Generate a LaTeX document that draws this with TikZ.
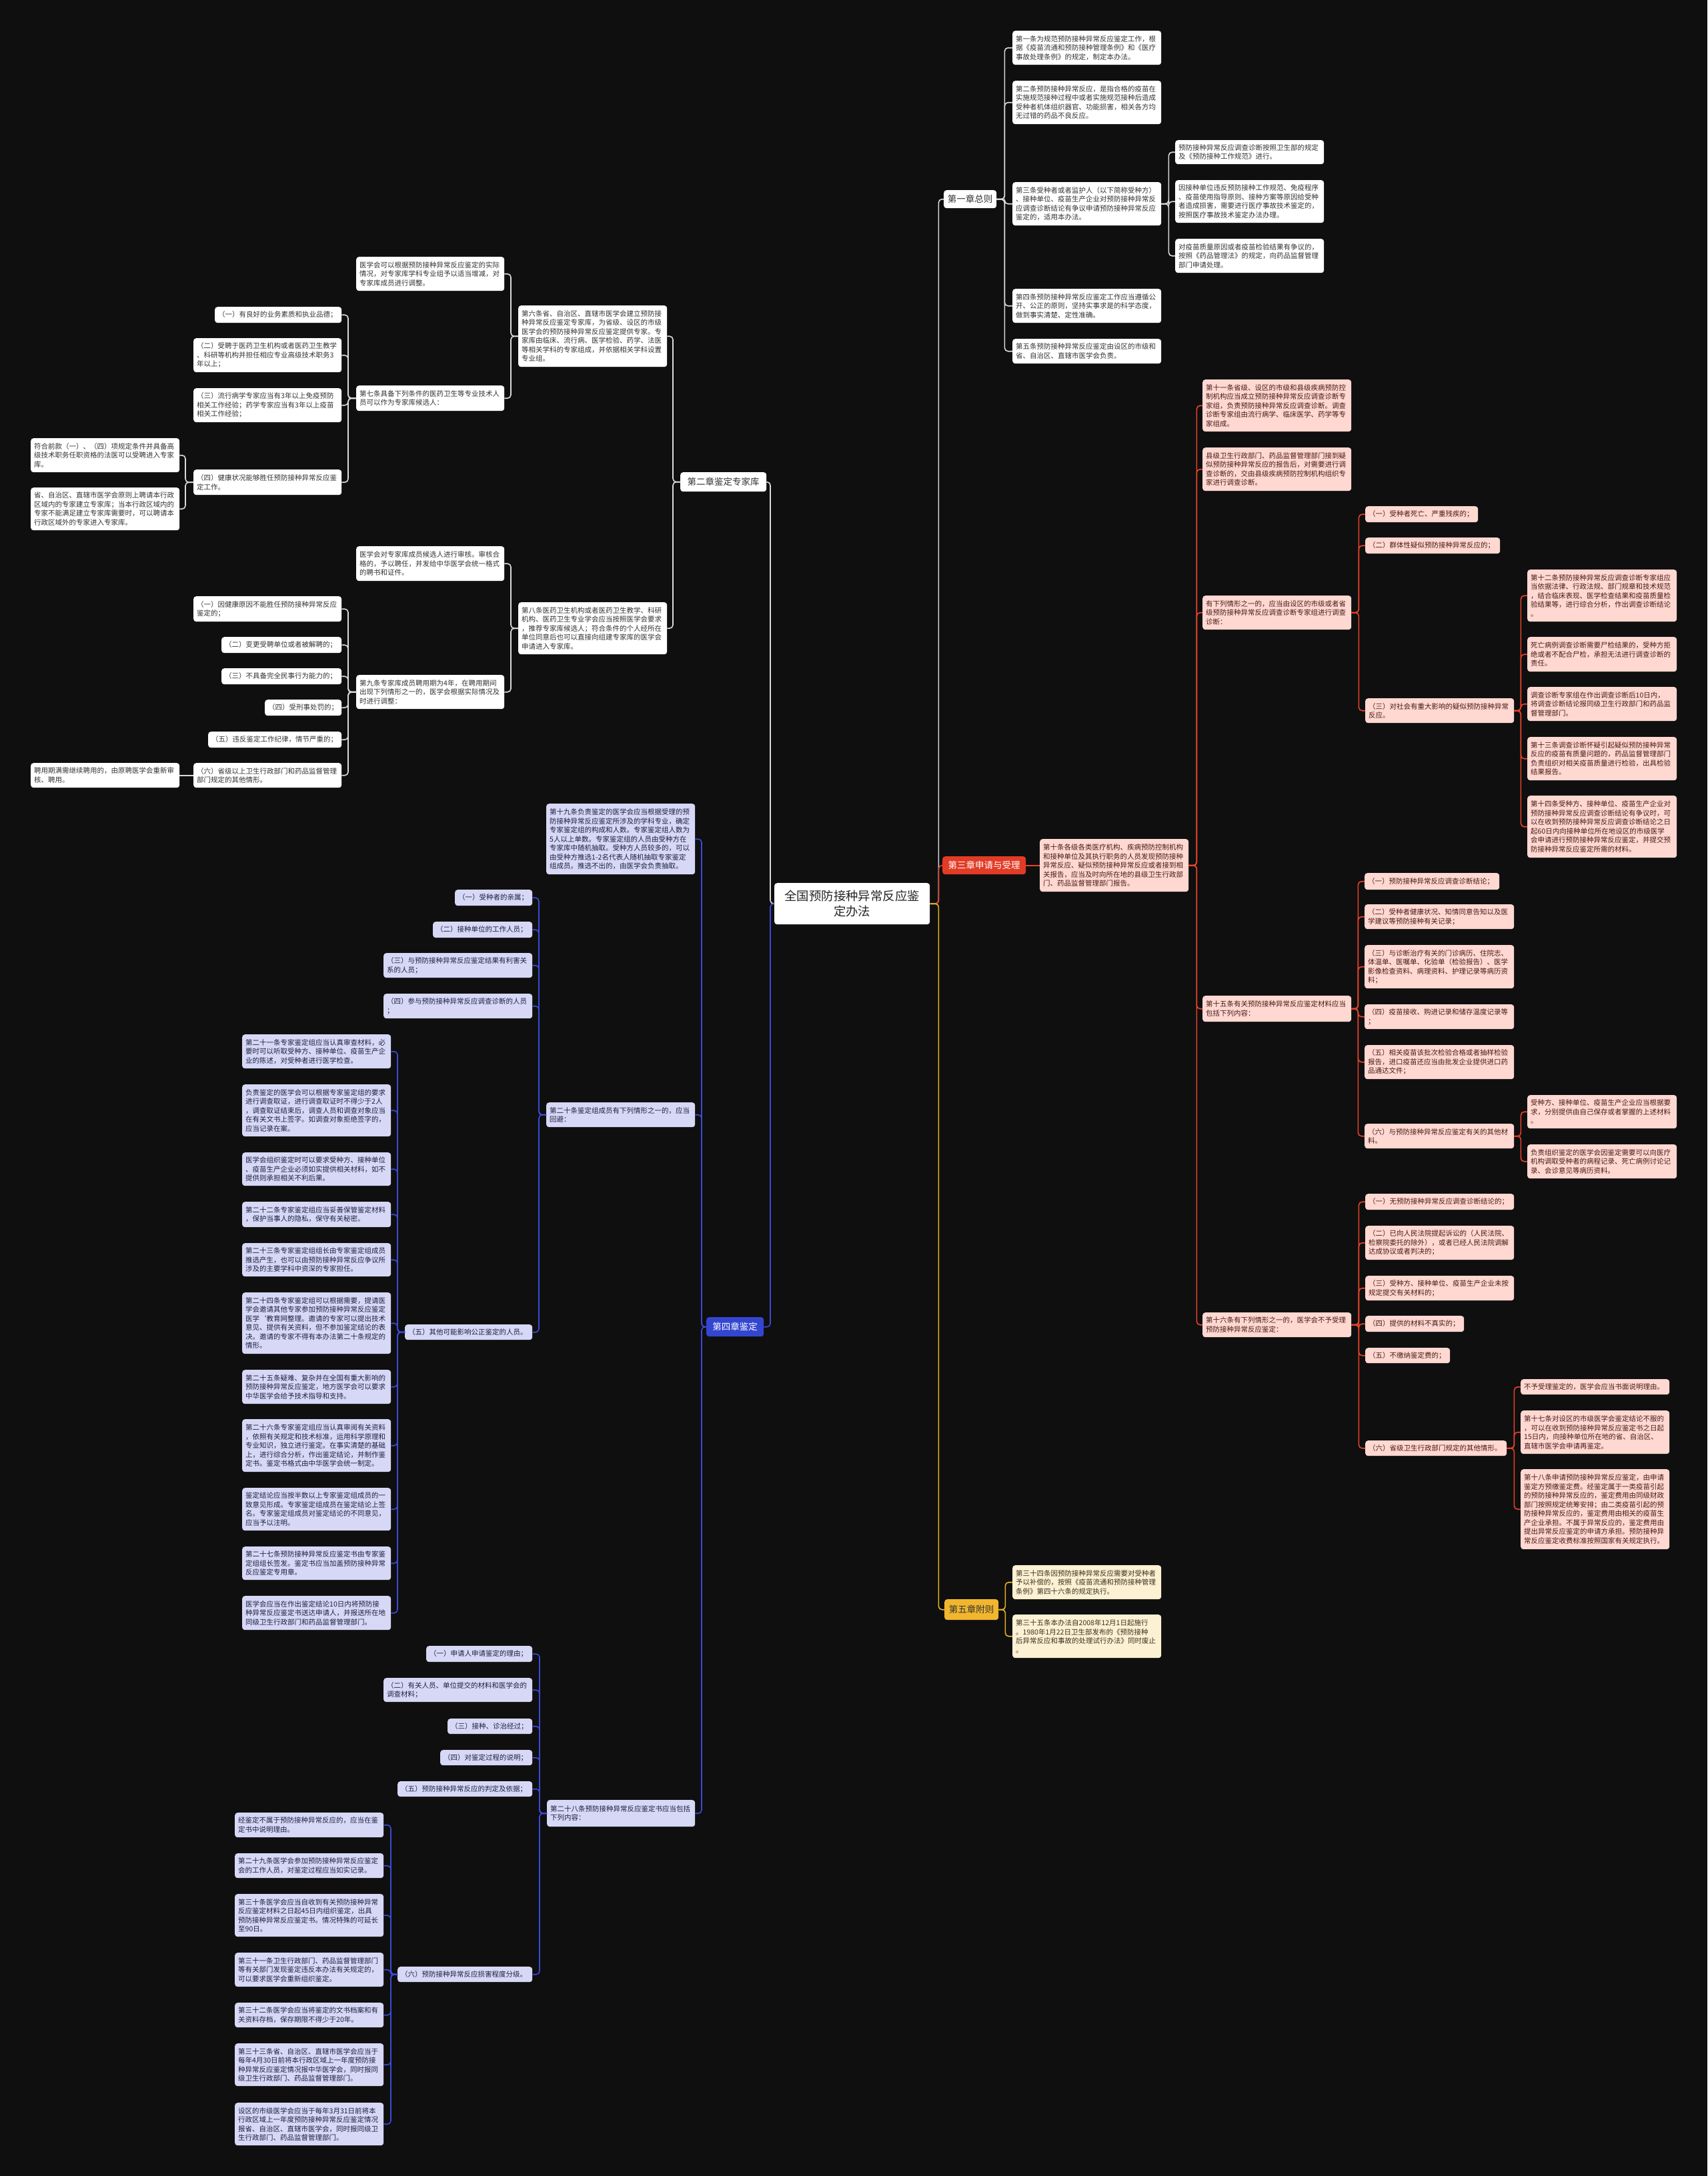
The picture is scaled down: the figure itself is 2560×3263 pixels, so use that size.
\documentclass[tikz,border=0pt]{standalone}
\usepackage{fontspec}
\setmainfont{Noto Sans CJK SC}
\definecolor{bgc}{HTML}{0F0F0F}
\definecolor{wline}{HTML}{DADADA}
\definecolor{wtext}{HTML}{333333}
\definecolor{rline}{HTML}{E8432B}
\definecolor{rfill}{HTML}{FFD8D2}
\definecolor{rtext}{HTML}{4A1A14}
\definecolor{rnode}{HTML}{E23B26}
\definecolor{bline}{HTML}{3A4BD6}
\definecolor{bfill}{HTML}{D6D8F6}
\definecolor{btext}{HTML}{1E2040}
\definecolor{bnode}{HTML}{3446D0}
\definecolor{yline}{HTML}{EBB321}
\definecolor{yfill}{HTML}{FDF1D3}
\definecolor{ytext}{HTML}{3A3020}
\definecolor{ynode}{HTML}{F1B52E}
\tikzset{
 bxs/.style={rounded corners=4pt, inner xsep=5pt, inner ysep=3pt, align=left, font=\fontsize{10.5}{13.5}\selectfont},
 wb/.style={bxs, fill=white, text=wtext},
 rb/.style={bxs, fill=rfill, text=rtext},
 bb/.style={bxs, fill=bfill, text=btext},
 yb/.style={bxs, fill=yfill, text=ytext},
 chapw/.style={rounded corners=4pt, inner sep=0pt, align=center, font=\fontsize{13.5}{16}\selectfont, fill=white, text=wtext},
 chapr/.style={chapw, fill=rnode, text=white},
 chapb/.style={chapw, fill=bnode, text=white},
 chapy/.style={chapw, fill=ynode, text=wtext},
 ctrs/.style={rounded corners=4pt, inner sep=0pt, align=center, font=\fontsize{18.4}{23}\selectfont, fill=white, text=black!85},
 lnk/.style={line width=1.6pt, rounded corners=5pt},
 wl/.style={lnk, draw=wline},
 rl/.style={lnk, draw=rline},
 bl/.style={lnk, draw=bline},
 yl/.style={lnk, draw=yline},
}
\newcommand\mbx[7]{\pgfmathsetmacro\bw{#5-#3-10}\pgfmathsetmacro\bh{#6-#4}\node[#1,anchor=north west,text width=\bw pt,minimum height=\bh pt] (#2) at (#3,#4) {#7};}
\newcommand\mcx[7]{\pgfmathsetmacro\bw{#5-#3}\pgfmathsetmacro\bh{#6-#4}\node[#1,anchor=north west,minimum width=\bw pt,minimum height=\bh pt] (#2) at (#3,#4) {#7};}
\begin{document}
\begin{tikzpicture}[x=1pt,y=-1pt]
\fill[bgc] (0,0) rectangle (2560,3263);
\useasboundingbox (0,0) rectangle (2560,3263);
% centre and chapters
\mcx{ctrs}{ctr}{1161}{1324}{1394}{1386}{全国预防接种异常反应鉴\\定办法}
\mcx{chapw}{ch1}{1415}{285}{1494}{312}{第一章总则}
\mcx{chapw}{ch2}{1020}{708}{1149}{737}{第二章鉴定专家库}
\mcx{chapr}{ch3}{1413}{1284}{1538}{1311}{第三章申请与受理}
\mcx{chapb}{ch4}{1059}{1975}{1145}{2004}{第四章鉴定}
\mcx{chapy}{ch5}{1416}{2398}{1497}{2429}{第五章附则}
% chapter 1
\mbx{wb}{a1}{1518}{46}{1741}{97}{第一条为规范预防接种异常反应鉴定工作，根\\据《疫苗流通和预防接种管理条例》和《医疗\\事故处理条例》的规定，制定本办法。}
\mbx{wb}{a2}{1518}{121}{1741}{186}{第二条预防接种异常反应，是指合格的疫苗在\\实施规范接种过程中或者实施规范接种后造成\\受种者机体组织器官、功能损害，相关各方均\\无过错的药品不良反应。}
\mbx{wb}{a3}{1518}{273}{1741}{338}{第三条受种者或者监护人（以下简称受种方）\\、接种单位、疫苗生产企业对预防接种异常反\\应调查诊断结论有争议申请预防接种异常反应\\鉴定的，适用本办法。}
\mbx{wb}{a31}{1762}{210}{1985}{246}{预防接种异常反应调查诊断按照卫生部的规定\\及《预防接种工作规范》进行。}
\mbx{wb}{a32}{1762}{270}{1985}{334}{因接种单位违反预防接种工作规范、免疫程序\\、疫苗使用指导原则、接种方案等原因给受种\\者造成损害，需要进行医疗事故技术鉴定的，\\按照医疗事故技术鉴定办法办理。}
\mbx{wb}{a33}{1762}{358}{1985}{409}{对疫苗质量原因或者疫苗检验结果有争议的，\\按照《药品管理法》的规定，向药品监督管理\\部门申请处理。}
\mbx{wb}{a4}{1518}{433}{1741}{484}{第四条预防接种异常反应鉴定工作应当遵循公\\开、公正的原则，坚持实事求是的科学态度，\\做到事实清楚、定性准确。}
\mbx{wb}{a5}{1518}{508}{1741}{545}{第五条预防接种异常反应鉴定由设区的市级和\\省、自治区、直辖市医学会负责。}
% chapter 2
\mbx{wb}{b61}{534}{385}{756}{436}{医学会可以根据预防接种异常反应鉴定的实际\\情况，对专家库学科专业组予以适当增减，对\\专家库成员进行调整。}
\mbx{wb}{b6}{777}{458}{1000}{550}{第六条省、自治区、直辖市医学会建立预防接\\种异常反应鉴定专家库，为省级、设区的市级\\医学会的预防接种异常反应鉴定提供专家。专\\家库由临床、流行病、医学检验、药学、法医\\等相关学科的专家组成，并依据相关学科设置\\专业组。}
\mbx{wb}{b7}{534}{578}{756}{616}{第七条具备下列条件的医药卫生等专业技术人\\员可以作为专家库候选人：}
\mbx{wb}{b71}{322}{460}{512}{484}{（一）有良好的业务素质和执业品德；}
\mbx{wb}{b72}{290}{507}{512}{558}{（二）受聘于医药卫生机构或者医药卫生教学\\、科研等机构并担任相应专业高级技术职务3\\年以上；}
\mbx{wb}{b73}{290}{582}{512}{633}{（三）流行病学专家应当有3年以上免疫预防\\相关工作经验；药学专家应当有3年以上疫苗\\相关工作经验；}
\mbx{wb}{b74}{290}{704}{512}{742}{（四）健康状况能够胜任预防接种异常反应鉴\\定工作。}
\mbx{wb}{b741}{46}{657}{269}{708}{符合前款（一）、（四）项规定条件并具备高\\级技术职务任职资格的法医可以受聘进入专家\\库。}
\mbx{wb}{b742}{46}{731}{269}{795}{省、自治区、直辖市医学会原则上聘请本行政\\区域内的专家建立专家库；当本行政区域内的\\专家不能满足建立专家库需要时，可以聘请本\\行政区域外的专家进入专家库。}
\mbx{wb}{b81}{534}{819}{756}{871}{医学会对专家库成员候选人进行审核。审核合\\格的，予以聘任，并发给中华医学会统一格式\\的聘书和证件。}
\mbx{wb}{b8}{777}{903}{1000}{981}{第八条医药卫生机构或者医药卫生教学、科研\\机构、医药卫生专业学会应当按照医学会要求\\，推荐专家库候选人；符合条件的个人经所在\\单位同意后也可以直接向组建专家库的医学会\\申请进入专家库。}
\mbx{wb}{b9}{534}{1012}{756}{1063}{第九条专家库成员聘用期为4年，在聘用期间\\出现下列情形之一的，医学会根据实际情况及\\时进行调整：}
\mbx{wb}{b91}{290}{894}{512}{932}{（一）因健康原因不能胜任预防接种异常反应\\鉴定的；}
\mbx{wb}{b92}{332}{955}{512}{979}{（二）变更受聘单位或者被解聘的；}
\mbx{wb}{b93}{332}{1002}{512}{1026}{（三）不具备完全民事行为能力的；}
\mbx{wb}{b94}{397}{1049}{512}{1073}{（四）受刑事处罚的；}
\mbx{wb}{b95}{312}{1097}{512}{1121}{（五）违反鉴定工作纪律，情节严重的；}
\mbx{wb}{b96}{290}{1144}{512}{1181}{（六）省级以上卫生行政部门和药品监督管理\\部门规定的其他情形。}
\mbx{wb}{b961}{46}{1144}{269}{1181}{聘用期满需继续聘用的，由原聘医学会重新审\\核、聘用。}
% chapter 3
\mbx{rb}{c10}{1559}{1258}{1782}{1337}{第十条各级各类医疗机构、疾病预防控制机构\\和接种单位及其执行职务的人员发现预防接种\\异常反应、疑似预防接种异常反应或者接到相\\关报告，应当及时向所在地的县级卫生行政部\\门、药品监督管理部门报告。}
\mbx{rb}{c11}{1803}{569}{2026}{647}{第十一条省级、设区的市级和县级疾病预防控\\制机构应当成立预防接种异常反应调查诊断专\\家组，负责预防接种异常反应调查诊断。调查\\诊断专家组由流行病学、临床医学、药学等专\\家组成。}
\mbx{rb}{c12}{1803}{671}{2026}{736}{县级卫生行政部门、药品监督管理部门接到疑\\似预防接种异常反应的报告后，对需要进行调\\查诊断的，交由县级疾病预防控制机构组织专\\家进行调查诊断。}
\mbx{rb}{c13}{1803}{893}{2026}{944}{有下列情形之一的，应当由设区的市级或者省\\级预防接种异常反应调查诊断专家组进行调查\\诊断：}
\mbx{rb}{c131}{2047}{759}{2216}{783}{（一）受种者死亡、严重残疾的；}
\mbx{rb}{c132}{2047}{806}{2249}{830}{（二）群体性疑似预防接种异常反应的；}
\mbx{rb}{c133}{2047}{1047}{2270}{1084}{（三）对社会有重大影响的疑似预防接种异常\\反应。}
\mbx{rb}{c1331}{2290}{854}{2514}{932}{第十二条预防接种异常反应调查诊断专家组应\\当依据法律、行政法规、部门规章和技术规范\\，结合临床表现、医学检查结果和疫苗质量检\\验结果等，进行综合分析，作出调查诊断结论\\。}
\mbx{rb}{c1332}{2290}{955}{2514}{1007}{死亡病例调查诊断需要尸检结果的，受种方拒\\绝或者不配合尸检，承担无法进行调查诊断的\\责任。}
\mbx{rb}{c1333}{2290}{1030}{2514}{1081}{调查诊断专家组在作出调查诊断后10日内，\\将调查诊断结论报同级卫生行政部门和药品监\\督管理部门。}
\mbx{rb}{c1334}{2290}{1105}{2514}{1170}{第十三条调查诊断怀疑引起疑似预防接种异常\\反应的疫苗有质量问题的，药品监督管理部门\\负责组织对相关疫苗质量进行检验，出具检验\\结果报告。}
\mbx{rb}{c1335}{2290}{1193}{2514}{1286}{第十四条受种方、接种单位、疫苗生产企业对\\预防接种异常反应调查诊断结论有争议时，可\\以在收到预防接种异常反应调查诊断结论之日\\起60日内向接种单位所在地设区的市级医学\\会申请进行预防接种异常反应鉴定，并提交预\\防接种异常反应鉴定所需的材料。}
\mbx{rb}{c15}{1803}{1493}{2026}{1532}{第十五条有关预防接种异常反应鉴定材料应当\\包括下列内容：}
\mbx{rb}{c151}{2046}{1309}{2248}{1334}{（一）预防接种异常反应调查诊断结论；}
\mbx{rb}{c152}{2046}{1356}{2270}{1393}{（二）受种者健康状况、知情同意告知以及医\\学建议等预防接种有关记录；}
\mbx{rb}{c153}{2046}{1417}{2270}{1482}{（三）与诊断治疗有关的门诊病历、住院志、\\体温单、医嘱单、化验单（检验报告）、医学\\影像检查资料、病理资料、护理记录等病历资\\料；}
\mbx{rb}{c154}{2046}{1506}{2270}{1543}{（四）疫苗接收、购进记录和储存温度记录等\\；}
\mbx{rb}{c155}{2046}{1567}{2270}{1618}{（五）相关疫苗该批次检验合格或者抽样检验\\报告，进口疫苗还应当由批发企业提供进口药\\品通达文件；}
\mbx{rb}{c156}{2046}{1685}{2270}{1722}{（六）与预防接种异常反应鉴定有关的其他材\\料。}
\mbx{rb}{c1561}{2290}{1642}{2514}{1692}{受种方、接种单位、疫苗生产企业应当根据要\\求，分别提供由自己保存或者掌握的上述材料\\。}
\mbx{rb}{c1562}{2290}{1716}{2514}{1767}{负责组织鉴定的医学会因鉴定需要可以向医疗\\机构调取受种者的病程记录、死亡病例讨论记\\录、会诊意见等病历资料。}
\mbx{rb}{c16}{1803}{1968}{2026}{2005}{第十六条有下列情形之一的，医学会不予受理\\预防接种异常反应鉴定：}
\mbx{rb}{c161}{2047}{1790}{2270}{1814}{（一）无预防接种异常反应调查诊断结论的；}
\mbx{rb}{c162}{2047}{1838}{2270}{1889}{（二）已向人民法院提起诉讼的（人民法院、\\检察院委托的除外），或者已经人民法院调解\\达成协议或者判决的；}
\mbx{rb}{c163}{2047}{1913}{2270}{1950}{（三）受种方、接种单位、疫苗生产企业未按\\规定提交有关材料的；}
\mbx{rb}{c164}{2047}{1973}{2195}{1997}{（四）提供的材料不真实的；}
\mbx{rb}{c165}{2047}{2021}{2174}{2044}{（五）不缴纳鉴定费的；}
\mbx{rb}{c166}{2047}{2160}{2259}{2183}{（六）省级卫生行政部门规定的其他情形。}
\mbx{rb}{c1661}{2280}{2068}{2503}{2091}{不予受理鉴定的，医学会应当书面说明理由。}
\mbx{rb}{c1662}{2280}{2115}{2503}{2180}{第十七条对设区的市级医学会鉴定结论不服的\\，可以在收到预防接种异常反应鉴定书之日起\\15日内，向接种单位所在地的省、自治区、\\直辖市医学会申请再鉴定。}
\mbx{rb}{c1663}{2280}{2203}{2503}{2323}{第十八条申请预防接种异常反应鉴定，由申请\\鉴定方预缴鉴定费。经鉴定属于一类疫苗引起\\的预防接种异常反应的，鉴定费用由同级财政\\部门按照规定统筹安排；由二类疫苗引起的预\\防接种异常反应的，鉴定费用由相关的疫苗生\\产企业承担。不属于异常反应的，鉴定费用由\\提出异常反应鉴定的申请方承担。预防接种异\\常反应鉴定收费标准按照国家有关规定执行。}
% chapter 4
\mbx{bb}{d19}{819}{1205}{1042}{1311}{第十九条负责鉴定的医学会应当根据受理的预\\防接种异常反应鉴定所涉及的学科专业，确定\\专家鉴定组的构成和人数。专家鉴定组人数为\\5人以上单数。专家鉴定组的人员由受种方在\\专家库中随机抽取。受种方人员较多的，可以\\由受种方推选1-2名代表人随机抽取专家鉴定\\组成员。推选不出的，由医学会负责抽取。}
\mbx{bb}{d20}{819}{1653}{1042}{1690}{第二十条鉴定组成员有下列情形之一的，应当\\回避：}
\mbx{bb}{d201}{682}{1334}{798}{1358}{（一）受种者的亲属；}
\mbx{bb}{d202}{649}{1382}{798}{1406}{（二）接种单位的工作人员；}
\mbx{bb}{d203}{575}{1429}{798}{1466}{（三）与预防接种异常反应鉴定结果有利害关\\系的人员；}
\mbx{bb}{d204}{575}{1490}{798}{1527}{（四）参与预防接种异常反应调查诊断的人员\\；}
\mbx{bb}{d205}{607}{1986}{798}{2009}{（五）其他可能影响公正鉴定的人员。}
\mbx{bb}{d2051}{363}{1551}{586}{1602}{第二十一条专家鉴定组应当认真审查材料，必\\要时可以听取受种方、接种单位、疫苗生产企\\业的陈述，对受种者进行医学检查。}
\mbx{bb}{d2052}{363}{1626}{586}{1704}{负责鉴定的医学会可以根据专家鉴定组的要求\\进行调查取证，进行调查取证时不得少于2人\\，调查取证结束后，调查人员和调查对象应当\\在有关文书上签字。如调查对象拒绝签字的，\\应当记录在案。}
\mbx{bb}{d2053}{363}{1728}{586}{1778}{医学会组织鉴定时可以要求受种方、接种单位\\、疫苗生产企业必须如实提供相关材料，如不\\提供则承担相关不利后果。}
\mbx{bb}{d2054}{363}{1802}{586}{1840}{第二十二条专家鉴定组应当妥善保管鉴定材料\\，保护当事人的隐私，保守有关秘密。}
\mbx{bb}{d2055}{363}{1864}{586}{1914}{第二十三条专家鉴定组组长由专家鉴定组成员\\推选产生，也可以由预防接种异常反应争议所\\涉及的主要学科中资深的专家担任。}
\mbx{bb}{d2056}{363}{1938}{586}{2030}{第二十四条专家鉴定组可以根据需要，提请医\\学会邀请其他专家参加预防接种异常反应鉴定\\医学\symbol{96}教育网整理。邀请的专家可以提出技术\\意见、提供有关资料，但不参加鉴定结论的表\\决。邀请的专家不得有本办法第二十条规定的\\情形。}
\mbx{bb}{d2057}{363}{2054}{586}{2105}{第二十五条疑难、复杂并在全国有重大影响的\\预防接种异常反应鉴定，地方医学会可以要求\\中华医学会给予技术指导和支持。}
\mbx{bb}{d2058}{363}{2128}{586}{2207}{第二十六条专家鉴定组应当认真审阅有关资料\\，依照有关规定和技术标准，运用科学原理和\\专业知识，独立进行鉴定。在事实清楚的基础\\上，进行综合分析，作出鉴定结论，并制作鉴\\定书。鉴定书格式由中华医学会统一制定。}
\mbx{bb}{d2059}{363}{2231}{586}{2295}{鉴定结论应当按半数以上专家鉴定组成员的一\\致意见形成。专家鉴定组成员在鉴定结论上签\\名。专家鉴定组成员对鉴定结论的不同意见，\\应当予以注明。}
\mbx{bb}{d20510}{363}{2319}{586}{2369}{第二十七条预防接种异常反应鉴定书由专家鉴\\定组组长签发。鉴定书应当加盖预防接种异常\\反应鉴定专用章。}
\mbx{bb}{d20511}{363}{2393}{586}{2444}{医学会应当在作出鉴定结论10日内将预防接\\种异常反应鉴定书送达申请人，并报送所在地\\同级卫生行政部门和药品监督管理部门。}
\mbx{bb}{d28}{820}{2699}{1042}{2739}{第二十八条预防接种异常反应鉴定书应当包括\\下列内容：}
\mbx{bb}{d281}{639}{2468}{798}{2492}{（一）申请人申请鉴定的理由；}
\mbx{bb}{d282}{575}{2516}{798}{2552}{（二）有关人员、单位提交的材料和医学会的\\调查材料；}
\mbx{bb}{d283}{671}{2577}{798}{2600}{（三）接种、诊治经过；}
\mbx{bb}{d284}{660}{2624}{798}{2647}{（四）对鉴定过程的说明；}
\mbx{bb}{d285}{596}{2671}{798}{2694}{（五）预防接种异常反应的判定及依据；}
\mbx{bb}{d286}{596}{2949}{798}{2972}{（六）预防接种异常反应损害程度分级。}
\mbx{bb}{d2861}{352}{2718}{575}{2755}{经鉴定不属于预防接种异常反应的，应当在鉴\\定书中说明理由。}
\mbx{bb}{d2862}{352}{2779}{575}{2816}{第二十九条医学会参加预防接种异常反应鉴定\\会的工作人员，对鉴定过程应当如实记录。}
\mbx{bb}{d2863}{352}{2840}{575}{2904}{第三十条医学会应当自收到有关预防接种异常\\反应鉴定材料之日起45日内组织鉴定，出具\\预防接种异常反应鉴定书。情况特殊的可延长\\至90日。}
\mbx{bb}{d2864}{352}{2928}{575}{2979}{第三十一条卫生行政部门、药品监督管理部门\\等有关部门发现鉴定违反本办法有关规定的，\\可以要求医学会重新组织鉴定。}
\mbx{bb}{d2865}{352}{3003}{575}{3040}{第三十二条医学会应当将鉴定的文书档案和有\\关资料存档，保存期限不得少于20年。}
\mbx{bb}{d2866}{352}{3064}{575}{3128}{第三十三条省、自治区、直辖市医学会应当于\\每年4月30日前将本行政区域上一年度预防接\\种异常反应鉴定情况报中华医学会，同时报同\\级卫生行政部门、药品监督管理部门。}
\mbx{bb}{d2867}{352}{3153}{575}{3217}{设区的市级医学会应当于每年3月31日前将本\\行政区域上一年度预防接种异常反应鉴定情况\\报省、自治区、直辖市医学会，同时报同级卫\\生行政部门、药品监督管理部门。}
% chapter 5
\mbx{yb}{e34}{1518}{2347}{1741}{2398}{第三十四条因预防接种异常反应需要对受种者\\予以补偿的，按照《疫苗流通和预防接种管理\\条例》第四十六条的规定执行。}
\mbx{yb}{e35}{1518}{2421}{1741}{2486}{第三十五条本办法自2008年12月1日起施行\\。1980年1月22日卫生部发布的《预防接种\\后异常反应和事故的处理试行办法》同时废止\\。}
% connectors: centre
\draw[wl] (ctr.east) -- ++(13,0) |- (ch1.west);
\draw[rl] (ctr.east) -- ++(13,0) |- (ch3.west);
\draw[yl] (ctr.east) -- ++(13,0) |- (ch5.west);
\draw[wl] (ctr.west) -- ++(-6,0) |- (ch2.east);
\draw[bl] (ctr.west) -- ++(-6,0) |- (ch4.east);
% chapter 1
\foreach \c in {a1,a2,a3,a4,a5} \draw[wl] (ch1.east) -- ++(12,0) |- (\c.west);
\foreach \c in {a31,a32,a33} \draw[wl] (a3.east) -- ++(11,0) |- (\c.west);
% chapter 2
\foreach \c in {b6,b8} \draw[wl] (ch2.west) -- ++(-11,0) |- (\c.east);
\foreach \c in {b61,b7} \draw[wl] (b6.west) -- ++(-11,0) |- (\c.east);
\foreach \c in {b71,b72,b73,b74} \draw[wl] (b7.west) -- ++(-12,0) |- (\c.east);
\foreach \c in {b741,b742} \draw[wl] (b74.west) -- ++(-12,0) |- (\c.east);
\foreach \c in {b81,b9} \draw[wl] (b8.west) -- ++(-11,0) |- (\c.east);
\foreach \c in {b91,b92,b93,b94,b95,b96} \draw[wl] (b9.west) -- ++(-12,0) |- (\c.east);
\draw[wl] (b96.west) -- (b961.east);
% chapter 3
\draw[rl] (ch3.east) -- (c10.west);
\foreach \c in {c11,c12,c13,c15,c16} \draw[rl] (c10.east) -- ++(12,0) |- (\c.west);
\foreach \c in {c131,c132,c133} \draw[rl] (c13.east) -- ++(11,0) |- (\c.west);
\foreach \c in {c1331,c1332,c1333,c1334,c1335} \draw[rl] (c133.east) -- ++(10,0) |- (\c.west);
\foreach \c in {c151,c152,c153,c154,c155,c156} \draw[rl] (c15.east) -- ++(10,0) |- (\c.west);
\foreach \c in {c1561,c1562} \draw[rl] (c156.east) -- ++(10,0) |- (\c.west);
\foreach \c in {c161,c162,c163,c164,c165,c166} \draw[rl] (c16.east) -- ++(11,0) |- (\c.west);
\foreach \c in {c1661,c1662,c1663} \draw[rl] (c166.east) -- ++(11,0) |- (\c.west);
% chapter 4
\foreach \c in {d19,d20,d28} \draw[bl] (ch4.west) -- ++(-7,0) |- (\c.east);
\foreach \c in {d201,d202,d203,d204,d205} \draw[bl] (d20.west) -- ++(-11,0) |- (\c.east);
\foreach \c in {d2051,d2052,d2053,d2054,d2055,d2056,d2057,d2058,d2059,d20510,d20511} \draw[bl] (d205.west) -- ++(-11,0) |- (\c.east);
\foreach \c in {d281,d282,d283,d284,d285,d286} \draw[bl] (d28.west) -- ++(-11,0) |- (\c.east);
\foreach \c in {d2861,d2862,d2863,d2864,d2865,d2866,d2867} \draw[bl] (d286.west) -- ++(-10,0) |- (\c.east);
% chapter 5
\foreach \c in {e34,e35} \draw[yl] (ch5.east) -- ++(10,0) |- (\c.west);
\end{tikzpicture}
\end{document}
